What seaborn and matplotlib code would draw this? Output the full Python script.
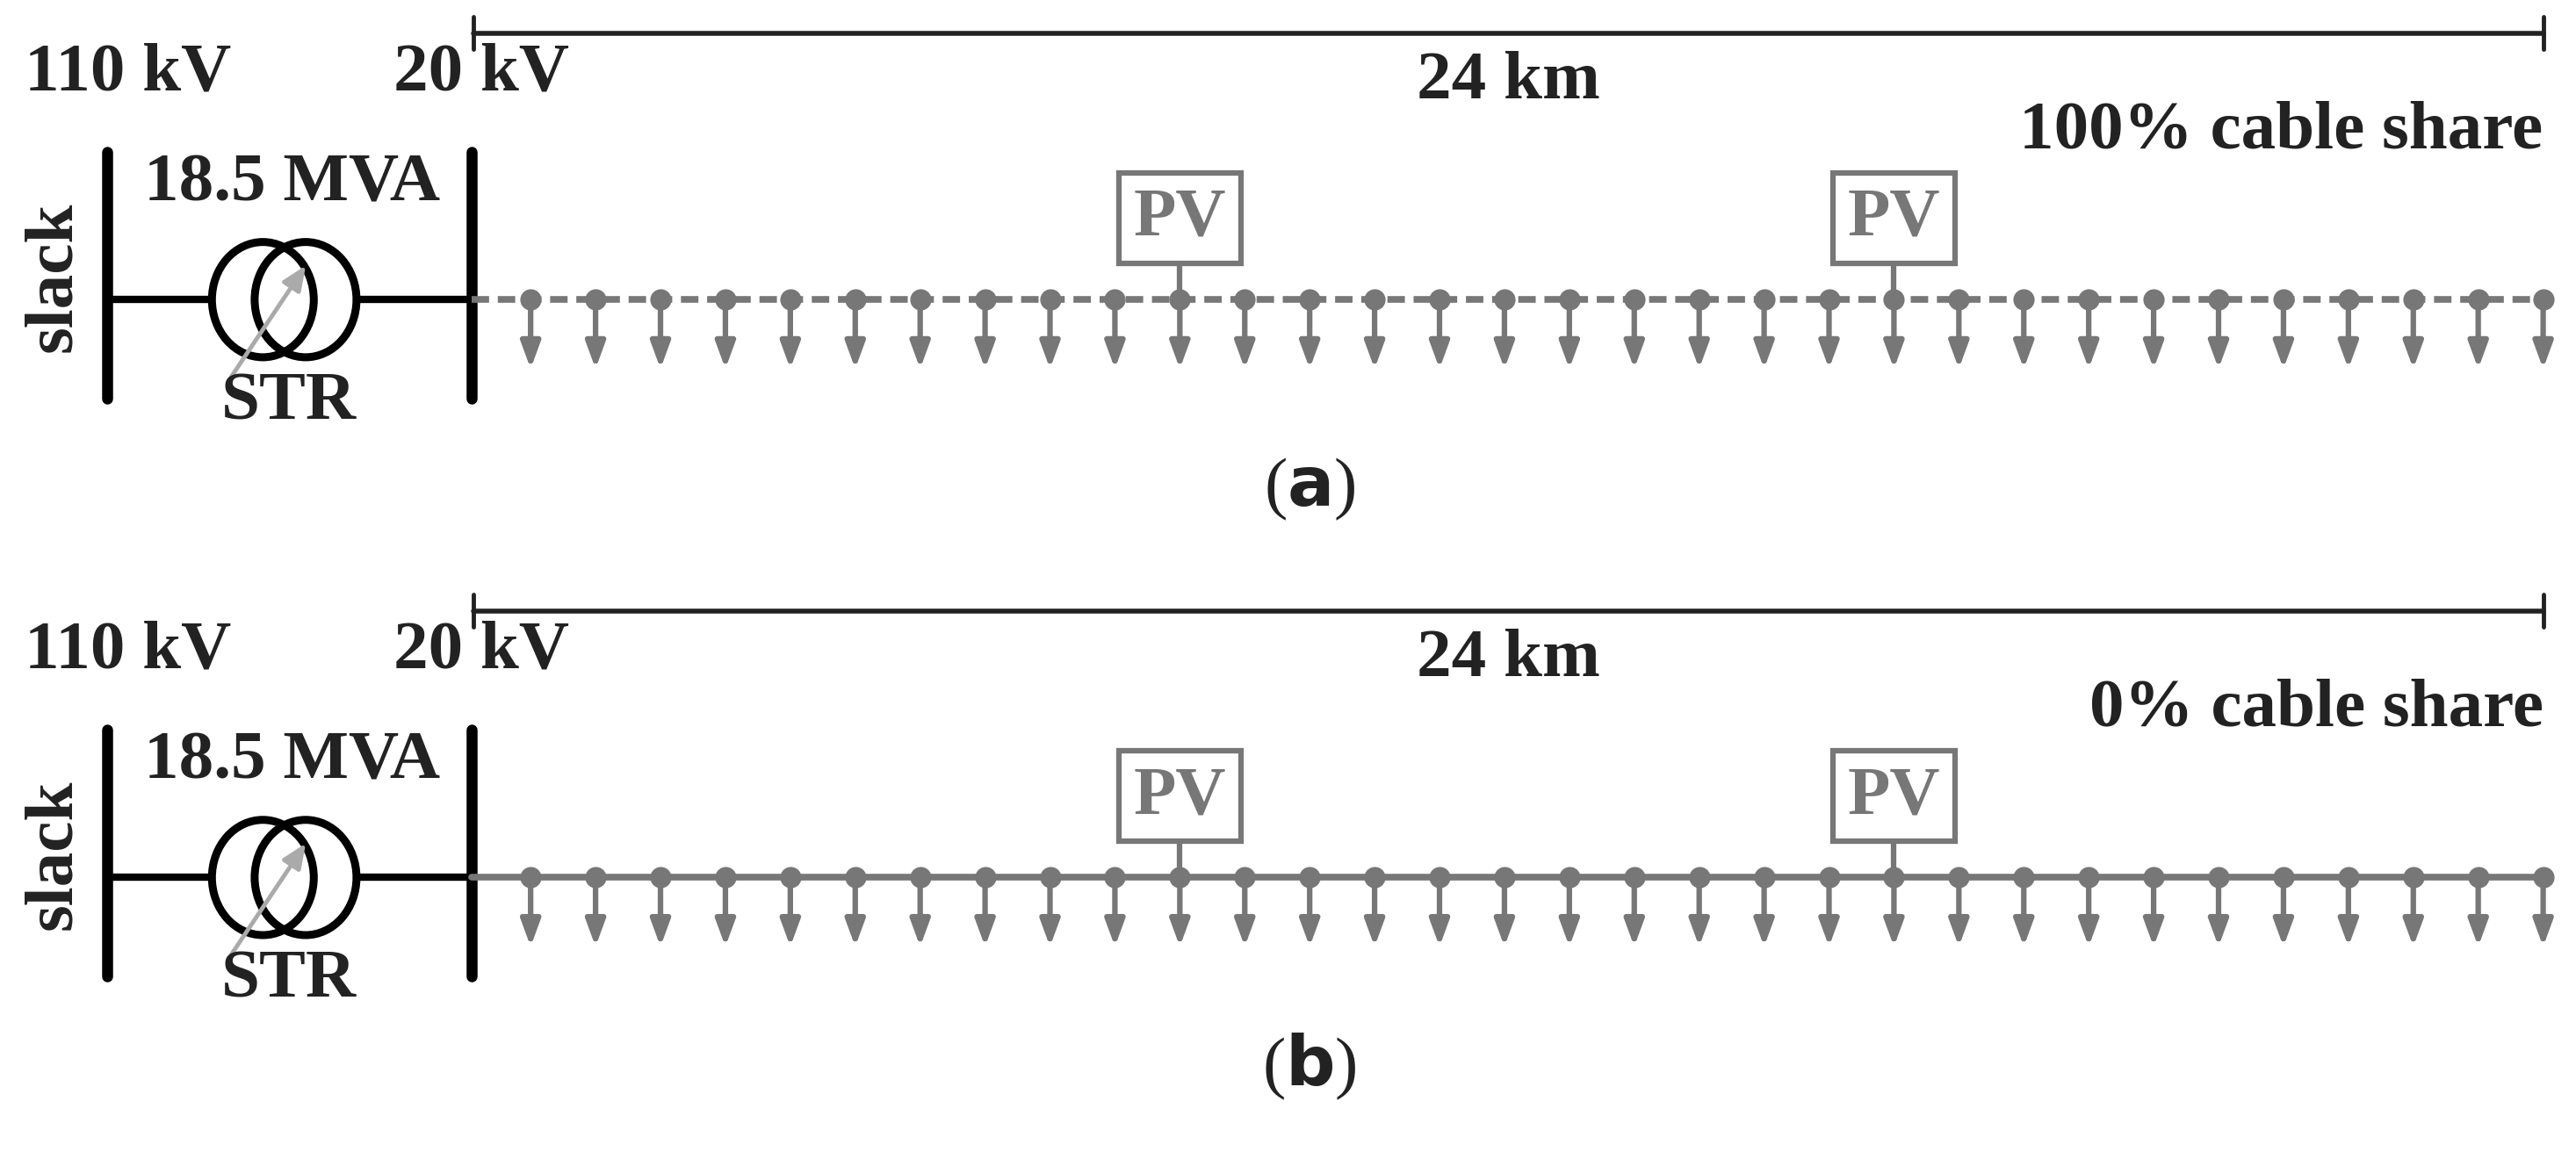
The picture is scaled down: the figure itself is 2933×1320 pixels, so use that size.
import matplotlib
matplotlib.use("Agg")
import matplotlib.pyplot as plt
import seaborn as sns
import numpy as np
import pandas as pd
from matplotlib.patches import Ellipse, Rectangle

sns.set_theme(style="white")
plt.rcParams['font.family'] = ['Liberation Serif', 'DejaVu Serif']

panel_letters = ["a", "b"]
cable_labels = ["100% cable share", "0% cable share"]
line_styles = ["dashed", "solid"]
length_label = "24 km"
hv_label = "110 kV"
mv_label = "20 kV"
trafo_label = "18.5 MVA"
trafo_name = "STR"
slack_label = "slack"
n_loads = 32
pv_nodes = [10, 21]

GRAY = "#777777"
DARK = "#222222"

fig = plt.figure(figsize=(29.33, 13.2), dpi=100)
ax = fig.add_axes([0, 0, 1, 1])
ax.set_xlim(0, 1568)
ax.set_ylim(704, 0)
ax.axis("off")

x0, x1 = 323, 1548
node_x = np.linspace(x0, x1, n_loads)
FS = 57

for p, (plet, clab, ls) in enumerate(zip(panel_letters, cable_labels, line_styles)):
    dy = p * 351
    yl = 182 + dy
    ax.plot([288, 1548], [20 + dy, 20 + dy], color=DARK, lw=4)
    for xx in (288, 1548):
        ax.plot([xx, xx], [10 + dy, 30 + dy], color=DARK, lw=3.5)
    ax.text(918, 50 + dy, length_label, ha="center", va="center", fontsize=FS, weight="bold", color=DARK)
    ax.text(78, 45 + dy, hv_label, ha="center", va="center", fontsize=FS, weight="bold", color=DARK)
    ax.text(293, 45 + dy, mv_label, ha="center", va="center", fontsize=FS, weight="bold", color=DARK)
    for bx in (65, 287):
        ax.plot([bx, bx], [92 + dy, 242 + dy], color="black", lw=9, solid_capstyle="round")
    ax.plot([65, 129], [yl, yl], color="black", lw=6)
    ax.plot([217, 287], [yl, yl], color="black", lw=6)
    for cx in (160, 186):
        ax.add_patch(Ellipse((cx, yl), 62, 70, fill=False, ec="black", lw=6.5))
    ax.annotate("", xy=(187, 160 + dy), xytext=(140, 230 + dy),
                arrowprops=dict(arrowstyle="-|>,head_width=0.6,head_length=1.4", color="#aaaaaa", lw=3.5))
    ax.text(178, 112 + dy, trafo_label, ha="center", va="center", fontsize=FS, weight="bold", color=DARK)
    ax.text(176, 245 + dy, trafo_name, ha="center", va="center", fontsize=FS, weight="bold", color=DARK)
    ax.text(33, 168 + dy, slack_label, ha="center", va="center", rotation=90, fontsize=FS, weight="bold", color=DARK)
    df = pd.DataFrame({"x": [287, x1], "y": [yl, yl]})
    sns.lineplot(data=df, x="x", y="y", ax=ax, color=GRAY, lw=5.5)
    if ls == "dashed":
        ax.lines[-1].set_dashes([2.6, 1.3])
    nodes = pd.DataFrame({"x": node_x, "y": [yl] * n_loads})
    sns.scatterplot(data=nodes, x="x", y="y", ax=ax, color=GRAY, s=260, edgecolor=GRAY, zorder=5, legend=False)
    for xx in node_x:
        ax.annotate("", xy=(xx, 224 + dy), xytext=(xx, yl),
                    arrowprops=dict(arrowstyle="-|>,head_width=0.55,head_length=1.5", color=GRAY, lw=4.5,
                                    shrinkA=0, shrinkB=0))
    for k in pv_nodes:
        xx = node_x[k]
        ax.add_patch(Rectangle((xx - 37, 105 + dy), 74, 55, fill=True, fc="white", ec=GRAY, lw=4.5))
        ax.text(xx, 133 + dy, "PV", ha="center", va="center", fontsize=FS, weight="bold", color=GRAY)
        ax.plot([xx, xx], [160 + dy, yl], color=GRAY, lw=4.5)
    ax.text(1548, 80 + dy, clab, ha="right", va="center", fontsize=FS, weight="bold", color=DARK)
    ax.text(797, 297 + dy, "(" + r"$\mathbf{" + plet + "}$" + ")", ha="center", va="center",
            fontsize=FS, color=DARK)

fig.savefig("out.png", dpi=100, facecolor="white")
